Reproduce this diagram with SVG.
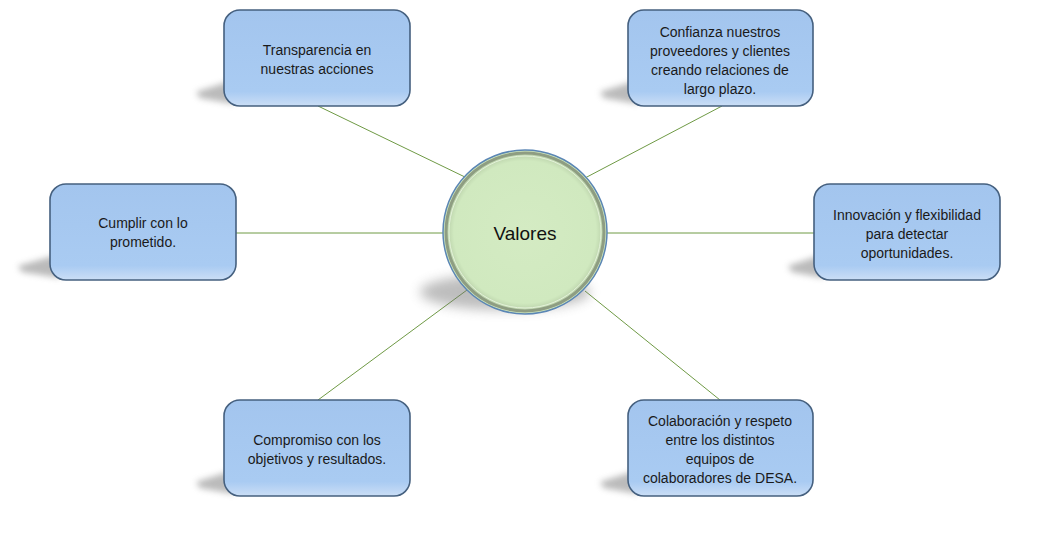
<svg xmlns="http://www.w3.org/2000/svg" width="1047" height="544" viewBox="0 0 1047 544">
<defs>
<style>
.box{fill:url(#bg);stroke:#45607F;stroke-width:1.6}
.t{font-family:"Liberation Sans",Arial,sans-serif;font-size:14px;fill:#1A1A1A;text-anchor:middle}
.c{stroke:#6F9A45;stroke-width:1;fill:none}
.sh{fill:#777;opacity:.5;filter:url(#blur)}
</style>
<linearGradient id="bg" x1="0" y1="0" x2="0" y2="1">
<stop offset="0" stop-color="#A3C5EE"/>
<stop offset="0.85" stop-color="#A9CBF2"/>
<stop offset="1" stop-color="#CBDEF6"/>
</linearGradient>
<radialGradient id="cg" cx="0.5" cy="0.5" r="0.5">
<stop offset="0" stop-color="#D4EBC3"/>
<stop offset="0.9" stop-color="#D0E9BF"/>
<stop offset="1" stop-color="#B8CFA8"/>
</radialGradient>
<filter id="blur" x="-30%" y="-60%" width="160%" height="220%"><feGaussianBlur stdDeviation="3"/></filter>
<filter id="blur2" x="-20%" y="-50%" width="140%" height="200%"><feGaussianBlur stdDeviation="6"/></filter>
</defs>
<g id="connectors">
<line class="c" x1="318" y1="106" x2="467" y2="178"/>
<line class="c" x1="722" y1="106" x2="585" y2="178"/>
<line class="c" x1="236" y1="233" x2="443" y2="233"/>
<line class="c" x1="607" y1="233" x2="814" y2="233"/>
<line class="c" x1="318" y1="400" x2="467" y2="290"/>
<line class="c" x1="720" y1="400" x2="585" y2="291"/>
</g>
<g id="n-top-left">
<path class="sh" d="M196 92 L234 80 L234 104 L200 98 Z"/>
<rect class="box" x="224" y="10" width="186" height="96" rx="16"/>
<text class="t" x="317" y="55">Transparencia en</text>
<text class="t" x="317" y="74">nuestras acciones</text>
</g>
<g id="n-top-right">
<path class="sh" d="M600 92 L638 80 L638 104 L604 98 Z"/>
<rect class="box" x="628" y="10" width="185" height="96" rx="16"/>
<text class="t" x="720" y="37">Confianza nuestros</text>
<text class="t" x="720" y="56">proveedores y clientes</text>
<text class="t" x="720" y="75">creando relaciones de</text>
<text class="t" x="720" y="94">largo plazo.</text>
</g>
<g id="n-left">
<path class="sh" d="M18 266 L60 254 L60 278 L22 272 Z"/>
<rect class="box" x="50" y="184" width="186" height="96" rx="16"/>
<text class="t" x="143" y="228">Cumplir con lo</text>
<text class="t" x="143" y="247">prometido.</text>
</g>
<g id="n-right">
<path class="sh" d="M788 266 L824 254 L824 278 L792 272 Z"/>
<rect class="box" x="814" y="184" width="186" height="96" rx="16"/>
<text class="t" x="907" y="220">Innovación y flexibilidad</text>
<text class="t" x="907" y="239">para detectar</text>
<text class="t" x="907" y="258">oportunidades.</text>
</g>
<g id="n-bottom-left">
<path class="sh" d="M196 482 L234 470 L234 494 L200 488 Z"/>
<rect class="box" x="224" y="400" width="186" height="96" rx="16"/>
<text class="t" x="317" y="445">Compromiso con los</text>
<text class="t" x="317" y="464">objetivos y resultados.</text>
</g>
<g id="n-bottom-right">
<path class="sh" d="M600 482 L638 470 L638 494 L604 488 Z"/>
<rect class="box" x="628" y="400" width="185" height="96" rx="16"/>
<text class="t" x="720" y="426">Colaboración y respeto</text>
<text class="t" x="720" y="445">entre los distintos</text>
<text class="t" x="720" y="464">equipos de</text>
<text class="t" x="720" y="483">colaboradores de DESA.</text>
</g>
<g id="n-center">
<ellipse cx="505" cy="292" rx="85" ry="18" fill="#6E6E6E" opacity=".45" filter="url(#blur2)"/>
<circle cx="525" cy="232" r="82" fill="#CFE7BE" stroke="#5B86B5" stroke-width="1.5"/>
<circle cx="525" cy="232" r="79" fill="url(#cg)" stroke="#8E9D82" stroke-width="3"/>
<circle cx="525" cy="232" r="76" fill="none" stroke="#E4F2DA" stroke-width="1"/>
<text x="525" y="240" font-family="Liberation Sans,Arial,sans-serif" font-size="19" fill="#111" text-anchor="middle">Valores</text>
</g>
</svg>
